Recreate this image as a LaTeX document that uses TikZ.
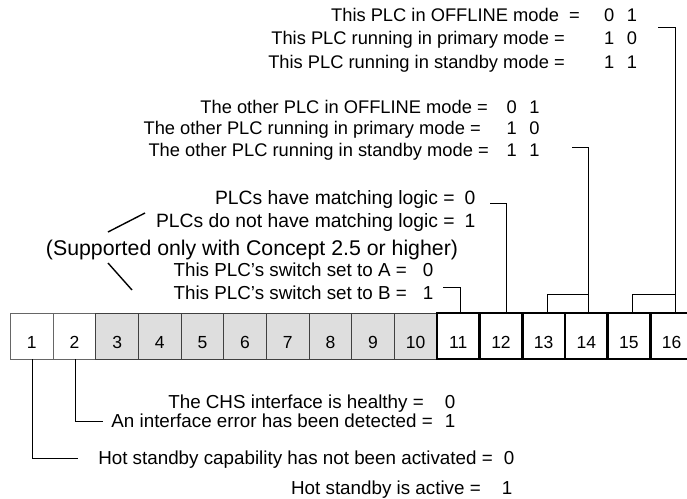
\documentclass[tikz,border=0pt]{standalone}
\usepackage{fontspec}
\setmainfont{Liberation Sans}
\usetikzlibrary{calc}
\begin{document}
\begin{tikzpicture}[x=1pt,y=-1pt,
  txt/.style={inner sep=0pt,font=\fontsize{18.8}{22}\selectfont},
  txttop/.style={inner sep=0pt,font=\fontsize{18.3}{22}\selectfont},
  txtmid/.style={inner sep=0pt,font=\fontsize{19.3}{22}\selectfont},
  lbl/.style={txt,anchor=base east},
  val/.style={txt,anchor=base},
  lbltop/.style={txttop,anchor=base east},
  valtop/.style={txttop,anchor=base},
  lblmid/.style={txtmid,anchor=base east},
  valmid/.style={txtmid,anchor=base},
  big/.style={inner sep=0pt,font=\fontsize{21.3}{25}\selectfont,anchor=base},
  cellbase/.style={minimum width=42.65pt,minimum height=46pt,inner sep=0pt,
    text height=25pt,text depth=0pt,font=\fontsize{17.5}{20}\selectfont},
  whitecell/.style={cellbase,draw=black!60,line width=0.8pt,fill=white},
  graycell/.style={cellbase,draw=black!75,line width=0.8pt,fill=black!13},
  boldcell/.style={cellbase,draw=black,line width=2.6pt,fill=white},
  conn/.style={draw=black,line width=0.8pt},
  slash/.style={draw=black,line width=1.4pt}]
\useasboundingbox (0,0) rectangle (687,498);
\fill[white] (0,0) rectangle (687,498);

% register cells
\foreach \k in {1,2}{\node[whitecell] (c\k) at ({10.5+42.65*(\k-0.5)},336) {\k};}
\foreach \k in {3,...,10}{\node[graycell] (c\k) at ({10.5+42.65*(\k-0.5)},336) {\k};}
\foreach \k in {11,...,16}{\node[boldcell] (c\k) at ({10.5+42.65*(\k-0.5)},336) {\k};}

% top texts
\node[lbltop] (l1) at (580,21.5) {This PLC in OFFLINE mode \ =};
\node[valtop] (v1) at (620.5,21.5) {0\hspace{12.5pt}1};
\node[lbltop] (l2) at (565,44.5) {This PLC running in primary mode =};
\node[valtop] (v2) at (620.5,44.5) {1\hspace{12.5pt}0};
\node[lbltop] (l3) at (565,68.5) {This PLC running in standby mode =};
\node[valtop] (v3) at (620.5,68.5) {1\hspace{12.5pt}1};

\node[lbltop] (l4) at (488,113.5) {The other PLC in OFFLINE mode =};
\node[valtop] (v4) at (523,113.5) {0\hspace{12.5pt}1};
\node[lbltop] (l5) at (481,134.5) {The other PLC running in primary mode =};
\node[valtop] (v5) at (523,134.5) {1\hspace{12.5pt}0};
\node[lbltop] (l6) at (489,156.5) {The other PLC running in standby mode =};
\node[valtop] (v6) at (523,156.5) {1\hspace{12.5pt}1};

\node[lblmid] (l7) at (455,204.5) {PLCs have matching logic =};
\node[valmid] (v7) at (470,204.5) {0};
\node[lblmid] (l8) at (455,227.5) {PLCs do not have matching logic =};
\node[valmid] (v8) at (470,227.5) {1};
\node[big] (sup) at (252,255.5) {(Supported only with Concept 2.5 or higher)};
\node[lbl] (l10) at (407,276.5) {This PLC’s switch set to A =};
\node[val] (v10) at (428,276.5) {0};
\node[lbl] (l11) at (407,299.5) {This PLC’s switch set to B =};
\node[val] (v11) at (428,299.5) {1};

% bottom texts
\node[lbl] (l12) at (424,408.5) {The CHS interface is healthy =};
\node[val] (v12) at (450,408.5) {0};
\node[lbl] (l13) at (433,427.5) {An interface error has been detected =};
\node[val] (v13) at (450,427.5) {1};
\node[lbl] (l14) at (493,464.5) {Hot standby capability has not been activated =};
\node[val] (v14) at (509,464.5) {0};
\node[lbl] (l15) at (481,494.5) {Hot standby is active =};
\node[val] (v15) at (507,494.5) {1};

% bracket coordinates
\coordinate (b16s) at (658,27);
\coordinate (b16) at (675,27);
\coordinate (j1516) at (632,294);
\coordinate (b14s) at (572,147);
\coordinate (b14) at (588,147);
\coordinate (j1314) at (547,294);
\coordinate (b12s) at (490,203);
\coordinate (b12) at (506,203);
\coordinate (b11s) at (443,287);
\coordinate (b11) at (460,287);
\coordinate (b2) at (75,421);
\coordinate (b2e) at (103,421);
\coordinate (b1) at (32,458);
\coordinate (b1e) at (78,458);
\coordinate (s1a) at (108,232);
\coordinate (s1b) at (145,213);
\coordinate (s2a) at (108,263);
\coordinate (s2b) at (132,290);

% connectors
\draw[conn] (b16s) -- (b16) -- (b16 |- c16.north);
\draw[conn] (j1516 |- c15.north) -- (j1516) -- (j1516 -| b16);
\draw[conn] (b14s) -- (b14) -- (b14 |- c14.north);
\draw[conn] (j1314 |- c13.north) -- (j1314) -- (j1314 -| b14);
\draw[conn] (b12s) -- (b12) -- (b12 |- c12.north);
\draw[conn] (b11s) -- (b11) -- (b11 |- c11.north);
\draw[conn] (b2 |- c2.south) -- (b2) -- (b2e);
\draw[conn] (b1 |- c1.south) -- (b1) -- (b1e);
\draw[slash] (s1a) -- (s1b);
\draw[slash] (s2a) -- (s2b);
\end{tikzpicture}
\end{document}
